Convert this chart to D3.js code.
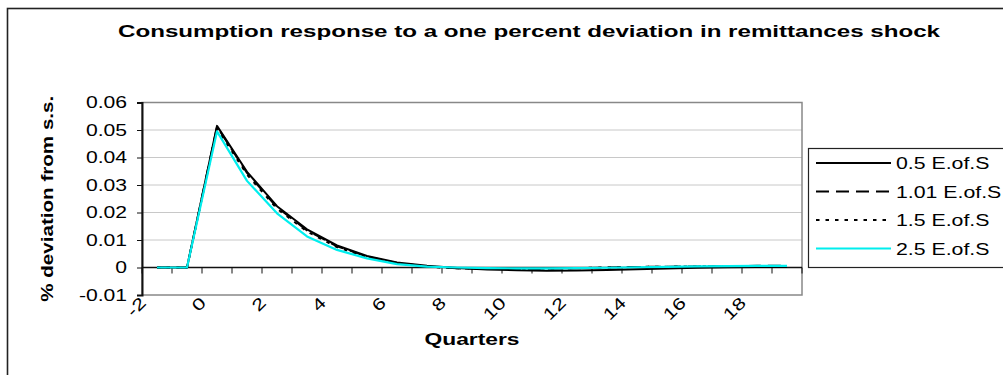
<!DOCTYPE html>
<html>
<head>
<meta charset="utf-8">
<script src="https://cdn.jsdelivr.net/npm/d3@7"></script>
<style>
  html, body { margin: 0; padding: 0; background: #fff; }
  svg { display: block; font-family: "Liberation Sans", Arial, sans-serif; }
</style>
</head>
<body>
<svg id="chart" width="1003" height="375"></svg>
<script>
// Quarters after the shock (category axis)
const quarters = [-2, -1, 0, 1, 2, 3, 4, 5, 6, 7, 8, 9, 10, 11, 12, 13, 14, 15, 16, 17, 18, 19];
const xTickLabels = ["-2", "0", "2", "4", "6", "8", "10", "12", "14", "16", "18"];
const yTicks = [-0.01, 0, 0.01, 0.02, 0.03, 0.04, 0.05, 0.06];
const yTickLabels = ["-0.01", "0", "0.01", "0.02", "0.03", "0.04", "0.05", "0.06"];

// Consumption response, % deviation from steady state, one series per elasticity of substitution
const es050 = [0, 0, 0.0515, 0.0348, 0.0223, 0.0139, 0.0080, 0.0042, 0.0018, 0.0006, -0.0002, -0.0007, -0.0010, -0.0012, -0.0011, -0.0009, -0.0006, -0.0004, -0.0001, 0.0001, 0.0002, 0.0002];
const es101 = [0, 0, 0.0512, 0.0344, 0.0219, 0.0135, 0.0077, 0.0040, 0.0016, 0.0004, -0.0003, -0.0005, -0.0006, -0.0005, -0.0003, 0.0000, 0.0002, 0.0003, 0.0004, 0.0005, 0.0006, 0.0006];
const es150 = [0, 0, 0.0506, 0.0338, 0.0214, 0.0131, 0.0074, 0.0038, 0.0015, 0.0003, -0.0003, -0.0005, -0.0005, -0.0004, -0.0002, 0.0000, 0.0002, 0.0003, 0.0004, 0.0005, 0.0005, 0.0005];
const es250 = [0, 0, 0.0495, 0.0315, 0.0197, 0.0113, 0.0064, 0.0033, 0.0012, 0.0003, 0.0000, -0.0002, -0.0003, -0.0003, -0.0002, -0.0001, 0.0001, 0.0002, 0.0004, 0.0005, 0.0006, 0.0006];

const seriesNames = ["0.5 E.of.S", "1.01 E.of.S", "1.5 E.of.S", "2.5 E.of.S"];
const seriesValues = [es050, es101, es150, es250];
const seriesStyles = [
  { color: "#000", dash: null, width: 2 },
  { color: "#000", dash: "13,7", width: 2 },
  { color: "#000", dash: "3.5,6", width: 2 },
  { color: "#00eeee", dash: null, width: 2.2 }
];

const svg = d3.select("#chart");

// stretch text along its direction, the way the chart's font renders
function widen(sel, k) {
  sel.each(function () {
    const w = this.getComputedTextLength();
    d3.select(this).attr("textLength", w * k).attr("lengthAdjust", "spacingAndGlyphs");
  });
}

// chart frame
svg.append("rect")
  .attr("x", 7.5).attr("y", 8.5).attr("width", 1010).attr("height", 380)
  .attr("fill", "#fff").attr("stroke", "#222").attr("stroke-width", 1.6);

const plot = { left: 142, right: 802, top: 102.5, bottom: 295 };

const x = d3.scaleBand().domain(quarters).range([plot.left, plot.right]).padding(0);
const y = d3.scaleLinear().domain([-0.01, 0.06]).range([plot.bottom, plot.top]);
const cx = q => x(q) + x.bandwidth() / 2;

// gridlines
svg.append("g").selectAll("line").data(yTicks.filter(t => t > -0.01 && t < 0.06)).join("line")
  .attr("x1", plot.left).attr("x2", plot.right)
  .attr("y1", d => y(d)).attr("y2", d => y(d))
  .attr("stroke", "#c8c8c8").attr("stroke-width", 1);

// plot area border
svg.append("rect")
  .attr("x", plot.left).attr("y", plot.top)
  .attr("width", plot.right - plot.left).attr("height", plot.bottom - plot.top)
  .attr("fill", "none").attr("stroke", "#888").attr("stroke-width", 1.5);

// y axis
const yAxis = d3.axisLeft(y).tickValues(yTicks).tickSize(5).tickPadding(10)
  .tickFormat((d, i) => yTickLabels[i]);
const gy = svg.append("g").attr("transform", `translate(${plot.left},0)`).call(yAxis);
gy.select(".domain").attr("stroke", "#111").attr("stroke-width", 2);
gy.selectAll(".tick line").attr("stroke", "#111").attr("stroke-width", 1);
gy.selectAll(".tick text")
  .attr("font-size", 16).attr("fill", "#000").attr("font-family", "Liberation Sans, Arial, sans-serif")
  .call(widen, 1.32);

// x axis at zero, ticks between categories
const gx = svg.append("g").attr("transform", `translate(0,${y(0)})`);
gx.append("line")
  .attr("x1", plot.left).attr("x2", plot.right).attr("y1", 0).attr("y2", 0)
  .attr("stroke", "#111").attr("stroke-width", 1.6);
const boundaries = quarters.map(q => x(q)).concat([plot.right]);
gx.selectAll("line.tk").data(boundaries).join("line").attr("class", "tk")
  .attr("x1", d => d).attr("x2", d => d).attr("y1", 0).attr("y2", 6)
  .attr("stroke", "#111").attr("stroke-width", 1);

// rotated category labels
svg.append("g").selectAll("text").data(xTickLabels).join("text")
  .attr("transform", d => `translate(${cx(+d) - 10},${304}) rotate(-45)`)
  .attr("text-anchor", "end")
  .attr("font-size", 16.5).attr("fill", "#000")
  .text(d => d)
  .call(widen, 1.32);

// series lines
const line = d3.line().x((d, i) => cx(quarters[i])).y(d => y(d));
seriesValues.forEach((vals, i) => {
  const s = seriesStyles[i];
  svg.append("path").datum(vals)
    .attr("d", line)
    .attr("fill", "none")
    .attr("stroke", s.color)
    .attr("stroke-width", s.width)
    .attr("stroke-dasharray", s.dash)
    .attr("stroke-linejoin", "round");
});

// title
svg.append("text")
  .attr("x", 529).attr("y", 37).attr("text-anchor", "middle")
  .attr("font-size", 16).attr("font-weight", "bold").attr("fill", "#000")
  .attr("textLength", 822).attr("lengthAdjust", "spacingAndGlyphs")
  .text("Consumption response to a one percent deviation in remittances shock");

// axis titles
svg.append("text")
  .attr("transform", `translate(${(plot.left + plot.right) / 2},345)`)
  .attr("text-anchor", "middle")
  .attr("font-size", 17).attr("font-weight", "bold").attr("fill", "#000")
  .attr("textLength", 95).attr("lengthAdjust", "spacingAndGlyphs")
  .text("Quarters");

svg.append("text")
  .attr("transform", `translate(53,${(plot.top + plot.bottom) / 2}) rotate(-90)`)
  .attr("text-anchor", "middle")
  .attr("font-size", 16).attr("font-weight", "bold").attr("fill", "#000")
  .attr("textLength", 206).attr("lengthAdjust", "spacingAndGlyphs")
  .text("% deviation from s.s.");

// legend
const legend = svg.append("g");
legend.append("rect")
  .attr("x", 808.5).attr("y", 148.5).attr("width", 230).attr("height", 119)
  .attr("fill", "#fff").attr("stroke", "#222").attr("stroke-width", 1.2);
const rows = legend.selectAll("g.row").data(seriesNames).join("g").attr("class", "row")
  .attr("transform", (d, i) => `translate(0,${163 + i * 28.5})`);
rows.append("line")
  .attr("x1", 816).attr("x2", 891).attr("y1", 0).attr("y2", 0)
  .attr("stroke", (d, i) => seriesStyles[i].color)
  .attr("stroke-width", (d, i) => seriesStyles[i].width)
  .attr("stroke-dasharray", (d, i) => seriesStyles[i].dash);
rows.append("text")
  .attr("x", 896).attr("y", 6)
  .attr("font-size", 16).attr("fill", "#000")
  .text(d => d)
  .call(widen, 1.33);
</script>
</body>
</html>
